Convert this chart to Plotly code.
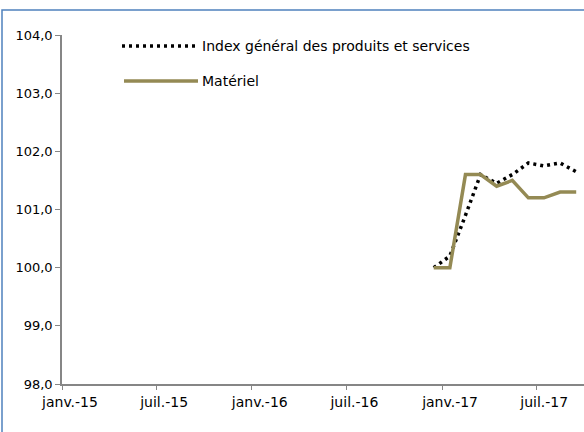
import plotly.graph_objects as go

months = ["2016-12-16", "2017-01-16", "2017-02-15", "2017-03-16", "2017-04-16",
          "2017-05-16", "2017-06-16", "2017-07-16", "2017-08-16", "2017-09-16"]
index_general = [100.0, 100.2, 100.9, 101.6, 101.45, 101.6, 101.8, 101.75, 101.8, 101.65]
materiel = [100.0, 100.0, 101.6, 101.6, 101.4, 101.5, 101.2, 101.2, 101.3, 101.3]

tick_dates = ["2015-01-01", "2015-07-01", "2016-01-01", "2016-07-01", "2017-01-01", "2017-07-01"]
tick_labels = ["janv.-15", "juil.-15", "janv.-16", "juil.-16", "janv.-17", "juil.-17"]

names = ["Index général des produits et services", "Matériel"]
olive = "#948A54"
FONT = "DejaVu Sans"
DOT = "3px,4px"

fig = go.Figure()
fig.add_trace(go.Scatter(x=months, y=index_general, mode="lines", name=names[0],
                         line=dict(color="black", width=3.5, dash=DOT)))
fig.add_trace(go.Scatter(x=months, y=materiel, mode="lines", name=names[1],
                         line=dict(color=olive, width=3.5)))

L, T, B = 62, 35, 48
W, H = 584, 432
pw, ph = W - L, H - T - B

def px_x(p):
    return (p - L) / pw

def px_y(p):
    return (H - B - p) / ph

shapes = [
    dict(type="rect", xref="paper", yref="paper",
         x0=px_x(2), x1=1.2, y0=-0.4, y1=px_y(10),
         line=dict(color="#4F81BD", width=1.5), fillcolor="rgba(0,0,0,0)", layer="below"),
    dict(type="line", xref="paper", yref="paper", x0=px_x(122), x1=px_x(198),
         y0=px_y(46), y1=px_y(46), line=dict(color="black", width=3.5, dash=DOT)),
    dict(type="line", xref="paper", yref="paper", x0=px_x(124), x1=px_x(198),
         y0=px_y(81), y1=px_y(81), line=dict(color=olive, width=3.5)),
]
annotations = [
    dict(xref="paper", yref="paper", x=px_x(200), y=px_y(46), text=names[0],
         showarrow=False, xanchor="left", yanchor="middle",
         font=dict(family=FONT, size=14, color="black")),
    dict(xref="paper", yref="paper", x=px_x(200), y=px_y(81), text=names[1],
         showarrow=False, xanchor="left", yanchor="middle",
         font=dict(family=FONT, size=14, color="black")),
]

fig.update_layout(
    width=W, height=H,
    margin=dict(l=L, r=0, t=T, b=B),
    paper_bgcolor="white", plot_bgcolor="white",
    showlegend=False,
    separators=", ",
    font=dict(family=FONT, size=13, color="black"),
    shapes=shapes, annotations=annotations,
)
fig.update_xaxes(type="date", range=["2015-01-01", "2017-10-01"],
                 tickvals=tick_dates, ticktext=tick_labels,
                 showgrid=False, showline=True, linecolor="#868686", linewidth=1.5,
                 ticks="outside", ticklen=4, tickcolor="#868686", ticklabelshift=8,
                 zeroline=False, tickfont=dict(family=FONT, size=14))
fig.update_yaxes(range=[98, 104], dtick=1, tickformat=".1f",
                 showgrid=False, showline=True, linecolor="#868686", linewidth=1.5,
                 ticks="outside", ticklen=5, tickcolor="#868686",
                 zeroline=False, tickfont=dict(family=FONT, size=13))

fig.write_html("out.html", config={"displayModeBar": False},
               post_script="document.body.style.margin='0';document.body.style.overflow='hidden';")
